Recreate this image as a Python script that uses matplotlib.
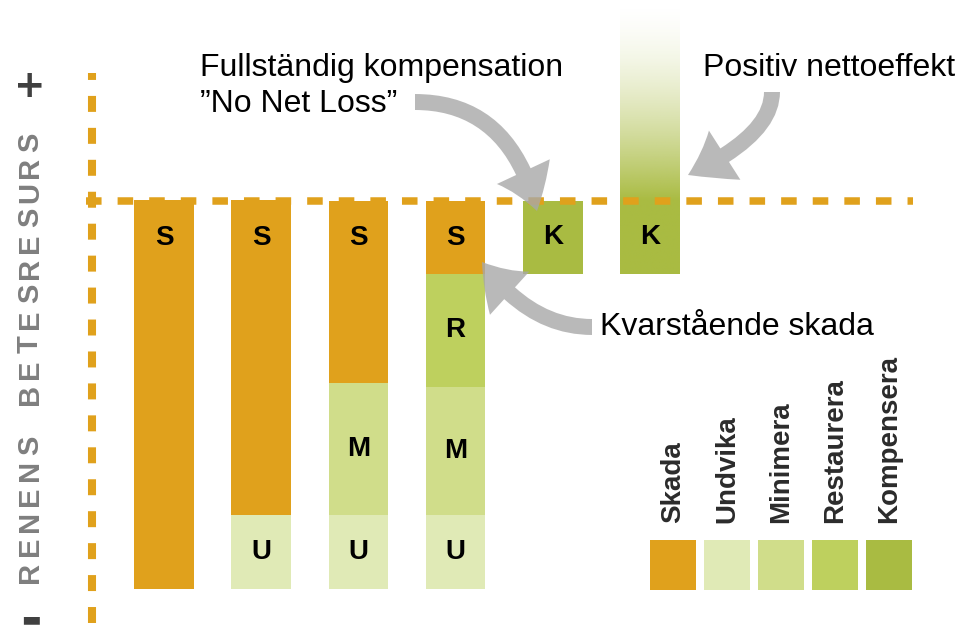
import numpy as np
import matplotlib.pyplot as plt
from matplotlib.patches import FancyArrowPatch

plt.rcParams['lines.scale_dashes'] = False

categories = ['Skada', 'Undvika', 'Minimera', 'Restaurera', 'Kompensera']
codes = ['S', 'U', 'M', 'R', 'K']
colors = ['#e0a11c', '#e0eab6', '#d0dd8a', '#bed05e', '#a9bb42']

# six steps of the hierarchy, values relative to the dashed baseline (100 = full damage)
skada = [100, 81, 47, 19, 0, 0]
undvika = [0, 19, 19, 19, 0, 0]
minimera = [0, 0, 34, 33, 0, 0]
restaurera = [0, 0, 0, 29, 0, 0]
kompensera = [0, 0, 0, 0, 19, 19]
netto = [0, 0, 0, 0, 0, 51]

# picture pixel -> data helper, used for text and arrows
X0, XS = 164.0, 97.2
Y0, YS = 200.5, 3.88
def px(x, y):
    return ((x - X0) / XS, (Y0 - y) / YS)

fig = plt.figure(figsize=(9.57, 6.37), dpi=100)
ax = fig.add_axes([0, 0, 1, 1])
ax.axis('off')

orange = '#e0a11c'
width = 0.612
xs = np.arange(len(skada))

# stacked bars hanging below the baseline
stack = [undvika, minimera, restaurera, skada, kompensera]
stack_codes = ['U', 'M', 'R', 'S', 'K']
stack_cols = [colors[1], colors[2], colors[3], colors[0], colors[4]]
total = np.sum(stack, axis=0)
bottom = -total.astype(float)
for vals, code, col in zip(stack, stack_codes, stack_cols):
    vals = np.array(vals, dtype=float)
    ax.bar(xs, vals, width, bottom=bottom, color=col, zorder=2)
    for i in xs:
        if vals[i] > 0:
            if code == 'S':
                yl = bottom[i] + vals[i] - 9.7
            else:
                yl = bottom[i] + vals[i] / 2
            ax.text(i, yl, code, ha='center', va='center', fontsize=20,
                    fontweight='bold', family='Liberation Sans', zorder=6)
    bottom = bottom + vals

# positive net effect, fading out upwards (drawn over the whole K bar, no seam)
kr, kg, kb = [int(colors[4][j:j + 2], 16) / 255 for j in (1, 3, 5)]
for i in xs:
    if netto[i] > 0:
        lo, hi = -kompensera[i], netto[i]
        v = np.linspace(lo, hi, 300)
        img = np.zeros((300, 1, 4))
        img[:, 0, 0], img[:, 0, 1], img[:, 0, 2] = kr, kg, kb
        img[:, 0, 3] = np.clip(1 - v / hi, 0, 1) ** 1.6
        ax.imshow(img, extent=[i - width / 2, i + width / 2, lo, hi],
                  origin='lower', aspect='auto', interpolation='bilinear', zorder=2.5)

# dashed axes
ax.plot([px(86, 0)[0], px(913, 0)[0]], [0, 0], color=orange, lw=5.4,
        linestyle=(0, (11.2, 11.55)), zorder=3)
xv = px(92, 0)[0]
ax.plot([xv, xv], [px(0, 73)[1], px(0, 637)[1]], color=orange, lw=5.8,
        linestyle=(6.5, (11.5, 11.5)), zorder=3)

# y label, letter-spaced
ylab = 'RENENS BETESRESURS'
for k, ch in enumerate(ylab):
    if ch == ' ':
        continue
    ax.text(*px(30, 572 - 25.3 * k), ch, rotation=90, ha='center', va='center',
            fontsize=21, fontweight='bold', family='Liberation Sans', color='#7f7f7f')
ax.text(*px(30, 87), '+', ha='center', va='center', fontsize=27,
        fontweight='bold', family='DejaVu Sans', color='#404040')
ax.text(*px(31, 619), '▬', ha='center', va='center', fontsize=15,
        family='DejaVu Sans', color='#404040')

# annotations
tfont = dict(fontsize=23, family='Liberation Sans', va='baseline', ha='left', zorder=6)
ax.text(*px(200, 76), 'Fullständig kompensation', **tfont)
ax.text(*px(200, 112), '”No Net Loss”', **tfont)
ax.text(*px(703, 76), 'Positiv nettoeffekt', **tfont)
ax.text(*px(600, 335), 'Kvarstående skada', **tfont)

astyle = 'simple,head_length=30,head_width=42,tail_width=11.5'
arrows = [((415, 102), (537, 211), 'angle3,angleA=0,angleB=-76'),
          ((772, 92), (688, 175), 'angle3,angleA=90,angleB=25'),
          ((592, 327), (482, 262), 'angle3,angleA=0,angleB=126')]
for a, b, cs in arrows:
    ax.add_patch(FancyArrowPatch(px(*a), px(*b), connectionstyle=cs, arrowstyle=astyle,
                                 color='#a8a8a8', alpha=0.8, lw=0, zorder=5,
                                 shrinkA=0, shrinkB=0))

# legend
for j, (name, col) in enumerate(zip(categories, colors)):
    lx = px(673 + 54 * j, 0)[0]
    ax.bar(lx, px(0, 540)[1] - px(0, 590)[1], 46 / XS, bottom=px(0, 590)[1],
           color=col, zorder=2)
    ax.text(lx, px(0, 523)[1], name, rotation=90, ha='center', va='bottom',
            fontsize=20, fontweight='bold', family='Liberation Sans', color='#2b2b2b')

ax.set_xlim(px(0, 0)[0], px(957, 0)[0])
ax.set_ylim(px(0, 637)[1], px(0, 0)[1])

plt.savefig('out.png', dpi=100)
